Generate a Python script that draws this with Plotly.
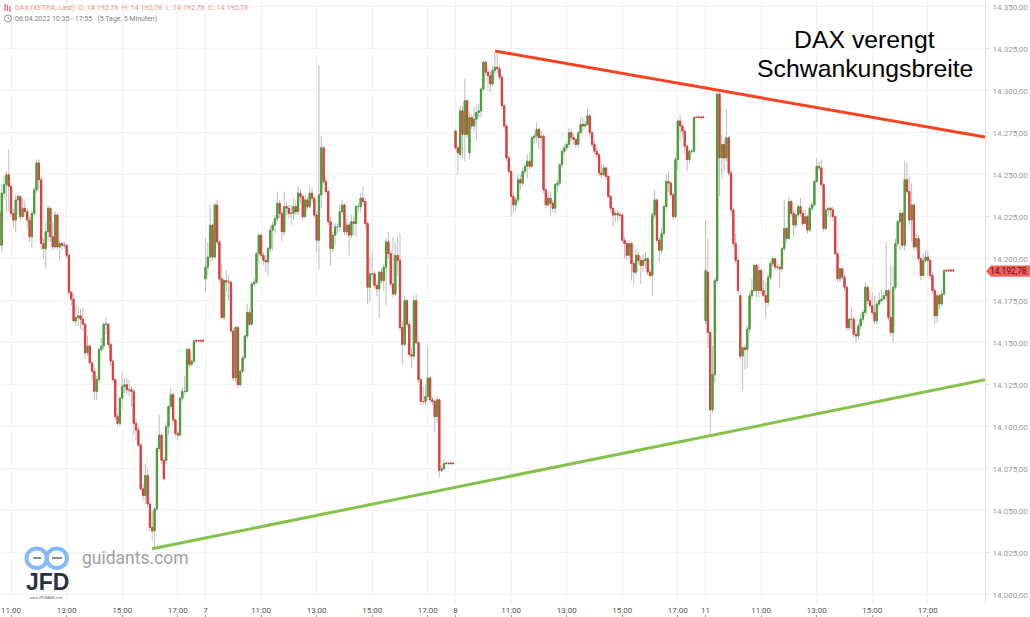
import plotly.graph_objects as go

# ---- candle data, one group of four lists per session (5-minute bars) ----
d0_start = 19
d0_open = [14228,14208,14239,14244,14250,14243,14227,14223,14235,14237,
           14225,14230,14228,14223,14213,14227,14241,14257,14247,14209,
           14206,14216,14230,14213,14207,14226,14207,14209,14208,14208,
           14202,14180,14176,14163,14165,14166,14164,14161,14144,14148,
           14138,14133,14121,14128,14146,14148,14161,14161,14149,14139,
           14128,14106,14102,14117,14124,14125,14122,14122,14121,14102,
           14098,14089,14063,14059,14071,14054,14040,14038,14051,14087,
           14095,14080,14080,14100,14112,14119,14104,14096,14095,14117,
           14121,14121,14146,14137,14139,14151.4,14151.4,14151.4,14151.4]
d0_high = [14240,14245,14249,14252,14265,14245,14230,14238,14239,14238,
           14236,14235,14230,14225,14229,14243,14259,14259,14249,14212,
           14222,14232,14231,14222,14228,14227,14211,14210,14210,14209,
           14203,14181,14179,14172,14171,14170,14171,14162,14154,14149,
           14139,14135,14130,14147,14153,14162,14165,14162,14150,14140,
           14129,14108,14118,14132,14129,14129,14128,14124,14123,14104,
           14100,14090,14066,14078,14075,14055,14050,14052,14088,14107,
           14096,14082,14102,14113,14123,14120,14105,14098,14118,14123,
           14130,14147,14147,14140,14152,14152,14152,14152,14152]
d0_low  = [14205,14204,14236,14228,14228,14225,14218,14216,14226,14222,
           14224,14225,14218,14210,14207,14225,14239,14240,14205,14200,
           14194,14210,14210,14205,14206,14205,14199,14205,14206,14200,
           14178,14172,14162,14160,14160,14158,14157,14141,14142,14136,
           14127,14116,14116,14126,14144,14146,14155,14147,14136,14126,
           14104,14100,14100,14110,14120,14119,14118,14112,14095,14092,
           14088,14062,14056,14054,14052,14038,14032,14028,14050,14085,
           14078,14068,14078,14095,14110,14102,14094,14092,14094,14115,
           14119,14120,14135,14136,14138,14150,14150,14150,14150]
d0_close = [14208,14239,14244,14250,14243,14227,14223,14235,14237,14225,
            14230,14228,14223,14213,14227,14241,14257,14247,14209,14206,
            14216,14230,14213,14207,14226,14207,14209,14208,14208,14202,
            14180,14176,14163,14165,14166,14164,14161,14144,14148,14138,
            14133,14121,14128,14146,14148,14161,14161,14149,14139,14128,
            14106,14102,14117,14124,14125,14122,14122,14121,14102,14098,
            14089,14063,14059,14071,14054,14040,14038,14051,14087,14095,
            14080,14069,14100,14112,14119,14104,14096,14095,14117,14121,
            14121,14146,14137,14139,14151,14151,14151,14151,14151]

d1_start = 108
d1_open = [14188,14195,14201,14220,14201,14232,14210,14188,14165,14187,
           14186,14186,14157,14129,14159,14125,14133,14141,14154,14168,
           14161,14185,14186,14203,14214,14202,14199,14198,14206,14217,
           14220,14224,14233,14227,14216,14231,14230,14227,14227,14231,
           14228,14239,14237,14225,14235,14231,14239,14236,14226,14211,
           14238,14266,14246,14240,14222,14206,14214,14219,14219,14228,
           14232,14216,14220,14214,14222,14221,14231,14231,14236,14234,
           14221,14183,14191,14191,14184,14182,14192,14187,14195,14210,
           14203,14185,14179,14202,14199,14159,14149,14175,14161,14143,
           14142,14175,14150,14128,14115,14115,14118,14129,14116,14115,
           14106,14116,14074,14075,14078.4,14078.4,14078.4,14078.4]
d1_high = [14212,14210,14232,14221,14233,14235,14211,14197,14188,14193,
           14190,14187,14159,14160,14160,14134,14142,14155,14173,14170,
           14186,14188,14204,14215,14215,14204,14202,14207,14220,14222,
           14226,14240,14235,14229,14240,14234,14232,14232,14236,14235,
           14243,14241,14238,14238,14237,14243,14242,14237,14228,14315,
           14273,14267,14249,14241,14225,14216,14221,14221,14232,14235,
           14233,14224,14222,14226,14225,14232,14233,14239,14243,14236,
           14222,14201,14204,14193,14186,14193,14194,14197,14212,14216,
           14205,14213,14210,14213,14215,14163,14178,14176,14163,14147,
           14178,14179,14151,14130,14124,14125,14148,14130,14118,14116,
           14118,14117,14077,14081,14079,14079,14079,14079]
d1_low  = [14180,14190,14198,14199,14200,14208,14186,14164,14163,14180,
           14175,14155,14127,14126,14123,14124,14132,14140,14152,14160,
           14160,14183,14185,14197,14200,14196,14192,14190,14204,14205,
           14215,14222,14224,14210,14214,14226,14224,14220,14223,14226,
           14226,14233,14223,14224,14229,14230,14234,14224,14204,14194,
           14230,14244,14238,14220,14196,14204,14208,14215,14216,14226,
           14214,14214,14202,14212,14214,14213,14228,14228,14232,14218,
           14173,14174,14186,14182,14178,14165,14185,14181,14172,14200,
           14183,14177,14178,14190,14157,14137,14148,14159,14141,14135,
           14140,14149,14126,14113,14113,14113,14116,14114,14113,14097,
           14102,14070,14073,14074,14078,14078,14078,14078]
d1_close = [14195,14201,14220,14201,14232,14210,14188,14165,14187,14186,
            14186,14157,14129,14159,14125,14133,14141,14154,14168,14161,
            14185,14186,14203,14214,14202,14199,14198,14206,14217,14220,
            14224,14233,14227,14216,14231,14230,14227,14227,14231,14228,
            14239,14237,14225,14235,14231,14239,14236,14226,14211,14238,
            14266,14246,14240,14222,14206,14214,14219,14219,14228,14232,
            14216,14220,14214,14222,14221,14231,14231,14236,14234,14221,
            14183,14191,14191,14184,14182,14192,14187,14195,14210,14203,
            14185,14179,14202,14199,14159,14149,14175,14161,14143,14142,
            14175,14150,14128,14115,14115,14118,14129,14116,14115,14106,
            14116,14074,14075,14078,14078,14078,14078,14078]

d2_start = 216
d2_open = [14276,14266,14262,14288,14274,14294,14263,14284,14279,14283,
           14287,14288,14301,14317,14311,14309,14304,14312,14314,14313,
           14308,14291,14279,14260,14252,14237,14232,14235,14247,14245,
           14252,14255,14258,14255,14272,14273,14277,14272,14273,14241,
           14232,14236,14233,14230,14244,14245,14256,14264,14266,14268,
           14275,14272,14271,14268,14275,14280,14279,14280,14285,14275,
           14268,14264,14262,14251,14250,14254,14249,14237,14230,14226,
           14227,14226,14226,14211,14209,14202,14209,14197,14192,14202,
           14199,14196,14199,14200,14192,14190,14226,14235,14211,14205,
           14215,14231,14246,14245,14238,14225,14259,14282,14279,14276,
           14267,14259,14264,14264,14284.4,14284.4,14284.4,14284.4]
d2_high = [14277,14267,14291,14291,14307,14295,14287,14286,14290,14291,
           14292,14302,14318,14318,14314,14312,14315,14323,14322,14315,
           14309,14292,14280,14261,14253,14239,14237,14250,14250,14254,
           14257,14262,14263,14273,14275,14281,14278,14276,14274,14242,
           14240,14240,14235,14245,14247,14257,14265,14268,14270,14278,
           14277,14274,14272,14276,14284,14284,14282,14290,14286,14276,
           14270,14266,14263,14256,14256,14255,14250,14238,14231,14229,
           14229,14228,14227,14213,14211,14211,14210,14199,14206,14204,
           14201,14203,14204,14201,14194,14228,14241,14236,14213,14218,
           14233,14250,14252,14246,14239,14261,14283,14286,14280,14277,
           14268,14265,14265,14285,14285,14285,14285,14285]
d2_low  = [14265,14250,14260,14260,14258,14272,14259,14277,14276,14270,
           14284,14284,14300,14309,14300,14299,14303,14310,14310,14306,
           14289,14277,14258,14250,14225,14227,14228,14233,14241,14243,
           14250,14248,14253,14254,14268,14269,14265,14265,14239,14230,
           14231,14226,14228,14227,14240,14243,14254,14262,14264,14266,
           14270,14268,14266,14266,14274,14276,14277,14279,14272,14266,
           14262,14260,14249,14248,14249,14247,14236,14228,14219,14222,
           14222,14223,14209,14200,14199,14200,14187,14184,14190,14197,
           14185,14192,14194,14190,14188,14178,14224,14209,14198,14203,
           14213,14229,14240,14236,14223,14224,14253,14270,14272,14262,
           14252,14257,14262,14263,14284,14284,14284,14284]
d2_close = [14266,14263,14288,14274,14294,14274,14284,14279,14283,14287,
            14288,14301,14317,14311,14309,14304,14312,14314,14313,14308,
            14291,14279,14260,14252,14237,14232,14235,14247,14245,14252,
            14255,14258,14255,14272,14273,14277,14272,14273,14241,14232,
            14236,14233,14230,14244,14245,14256,14264,14266,14268,14275,
            14272,14271,14268,14275,14280,14279,14280,14285,14275,14268,
            14264,14262,14251,14250,14254,14249,14237,14230,14226,14227,
            14226,14226,14211,14209,14202,14209,14197,14192,14202,14199,
            14196,14199,14200,14192,14190,14226,14235,14211,14205,14215,
            14231,14246,14245,14238,14225,14259,14282,14279,14276,14267,
            14259,14264,14264,14284,14284,14284,14284,14284]

d3_start = 324
d3_open = [14163,14192,14156,14110,14131,14187,14298,14260,14268,14260,
           14272,14251,14229,14209,14199,14178,14142,14147,14146,14158,
           14178,14181,14196,14181,14193,14181,14178,14174,14189,14197,
           14200,14195,14195,14194,14206,14218,14212,14234,14227,14220,
           14226,14231,14227,14221,14225,14217,14230,14232,14246,14255,
           14254,14244,14218,14229,14230,14229,14225,14203,14188,14194,
           14189,14183,14159,14164,14164,14155,14154,14160,14164,14168,
           14183,14175,14172,14168,14163,14173,14175,14176,14178,14181,
           14165,14156,14183,14209,14222,14227,14208,14247,14240,14223,
           14232,14207,14212,14200,14190,14199,14201,14199,14190,14181,
           14166,14178,14173,14179,14193.2,14193.2,14193.2,14193.2]
d3_high = [14223,14212,14158,14148,14189,14299,14299,14274,14271,14289,
           14273,14253,14230,14215,14201,14180,14148,14149,14160,14180,
           14188,14197,14197,14197,14194,14187,14186,14191,14199,14201,
           14200,14197,14197,14207,14235,14219,14237,14235,14229,14228,
           14232,14236,14229,14229,14226,14232,14234,14247,14260,14258,
           14259,14245,14230,14231,14231,14231,14226,14204,14195,14195,
           14191,14184,14165,14171,14166,14157,14162,14167,14170,14186,
           14184,14181,14180,14178,14175,14180,14182,14180,14210,14182,
           14196,14196,14212,14223,14229,14228,14258,14257,14249,14245,
           14233,14215,14214,14201,14203,14205,14205,14200,14192,14183,
           14180,14179,14182,14194,14194,14194,14194,14194]
d3_low  = [14161,14147,14095,14108,14126,14185,14237,14248,14252,14258,
           14249,14225,14207,14197,14179,14140,14122,14134,14135,14156,
           14176,14180,14177,14177,14179,14177,14164,14172,14187,14195,
           14193,14193,14183,14192,14204,14210,14212,14225,14213,14218,
           14224,14225,14219,14220,14215,14216,14228,14231,14245,14252,
           14243,14216,14217,14225,14224,14222,14202,14186,14186,14187,
           14181,14157,14157,14158,14153,14150,14152,14158,14162,14166,
           14173,14170,14166,14161,14161,14172,14174,14176,14175,14163,
           14154,14150,14181,14207,14205,14206,14205,14238,14220,14210,
           14205,14205,14198,14187,14190,14198,14190,14188,14179,14161,
           14162,14170,14172,14178,14192,14192,14192,14192]
d3_close = [14193,14156,14110,14131,14187,14298,14260,14268,14260,14272,
            14251,14229,14209,14199,14181,14142,14147,14146,14158,14178,
            14181,14196,14181,14193,14181,14178,14174,14189,14197,14200,
            14195,14195,14194,14206,14218,14212,14234,14227,14220,14226,
            14231,14227,14221,14225,14217,14230,14232,14246,14255,14254,
            14244,14218,14229,14230,14229,14225,14203,14188,14194,14189,
            14183,14159,14164,14164,14155,14154,14160,14164,14168,14183,
            14175,14172,14168,14163,14173,14175,14176,14178,14181,14165,
            14156,14183,14209,14222,14227,14208,14247,14240,14223,14232,
            14207,14212,14200,14190,14199,14201,14199,14190,14181,14166,
            14178,14173,14179,14192.78,14192.78,14192.78,14192.78,14192.78]

# ---- axis labels ----
x_tick_bars = [24, 48, 72, 96, 108, 132, 156, 180, 204, 216, 240, 264, 288, 312, 324, 348, 372, 396, 420]
x_tick_text = ["11:00", "13:00", "15:00", "17:00", "7", "11:00", "13:00", "15:00", "17:00", "8",
               "11:00", "13:00", "15:00", "17:00", "11", "11:00", "13:00", "15:00", "17:00"]
y_tick_vals = [14000 + 25 * k for k in range(15)]
y_tick_text = ["14.000,00", "14.025,00", "14.050,00", "14.075,00", "14.100,00", "14.125,00", "14.150,00",
               "14.175,00", "14.200,00", "14.225,00", "14.250,00", "14.275,00", "14.300,00", "14.325,00", "14.350,00"]

# ---- hand-drawn trend lines ----
resist_bars = [233.1, 444.7]
resist_vals = [14323.6, 14272.4]
support_bars = [84.9, 444.7]
support_vals = [14027.3, 14127.9]

# ---- assembling ----
sessions = [
    (d0_start, d0_open, d0_high, d0_low, d0_close),
    (d1_start, d1_open, d1_high, d1_low, d1_close),
    (d2_start, d2_open, d2_high, d2_low, d2_close),
    (d3_start, d3_open, d3_high, d3_low, d3_close),
]
bars, opens, highs, lows, closes = [], [], [], [], []
for start, o, h, l, c in sessions:
    assert len(o) == len(h) == len(l) == len(c), (start, len(o), len(h), len(l), len(c))
    bars += list(range(start, start + len(o)))
    opens += o
    highs += [max(a, b, d) for a, b, d in zip(h, o, c)]
    lows += [min(a, b, d) for a, b, d in zip(l, o, c)]
    closes += c
body_top = [max(a, b) for a, b in zip(opens, closes)]
body_bot = [min(a, b) for a, b in zip(opens, closes)]

W, H = 1030, 617
GREEN, RED = "#47a035", "#e03c3c"
WICK = "#bdbdbd"


def xp(px):
    return px / W


def yp(py):
    return 1 - py / H


fig = go.Figure()
fig.add_trace(go.Candlestick(
    x=bars, open=opens, high=highs, low=lows, close=closes, showlegend=False, hoverinfo="skip",
    increasing=dict(line=dict(color=WICK, width=1), fillcolor=WICK),
    decreasing=dict(line=dict(color=WICK, width=1), fillcolor=WICK)))
fig.add_trace(go.Candlestick(
    x=bars, open=opens, high=body_top, low=body_bot, close=closes, showlegend=False, hoverinfo="skip",
    increasing=dict(line=dict(color=GREEN, width=1), fillcolor=GREEN),
    decreasing=dict(line=dict(color=RED, width=1), fillcolor=RED)))
fig.add_trace(go.Scatter(x=resist_bars, y=resist_vals, mode="lines", showlegend=False, hoverinfo="skip",
                         line=dict(color="#f9421f", width=3)))
fig.add_trace(go.Scatter(x=support_bars, y=support_vals, mode="lines", showlegend=False, hoverinfo="skip",
                         line=dict(color="#83c34a", width=3)))


def note(px, py, text, size, color, anchor="left", family="Roboto"):
    fig.add_annotation(xref="paper", yref="paper", x=xp(px), y=yp(py), text=text, showarrow=False,
                       xanchor=anchor, yanchor="middle", font=dict(size=size, color=color, family=family),
                       borderpad=0, borderwidth=0)


note(15, 7.5, "DAX (XETRA, Last)&nbsp;&nbsp;O: 14.192,78&nbsp;&nbsp;H: 14.192,78&nbsp;&nbsp;L: 14.192,78&nbsp;&nbsp;C: 14.192,78",
     7.2, "#f48f8f")
note(15, 18.5, "06.04.2022 10:35 - 17:55&nbsp;&nbsp;&nbsp;(5 Tage, 5 Minuten)", 7.0, "#7f7f7f")
note(864.5, 39, "DAX verengt", 24.8, "#000000", "center", "Liberation Sans")
note(864.5, 68, "Schwankungsbreite", 24.8, "#000000", "center", "Liberation Sans")
note(1008, 271.3, "14.192,78", 8.3, "#4a1212", "center")
note(82, 558, "guidants.com", 17.5, "#a0a0a0", "left", "Roboto")
note(47, 582, "<b>JFD</b>", 23, "#27333f", "center", "Liberation Sans")
note(46.5, 597.5, "www.JFDBANK.com", 3.6, "#666666", "center", "Liberation Sans")

shapes = [
    # current price tag
    dict(type="path", xref="paper", yref="paper", layer="below", line=dict(width=0), fillcolor="#f2605e",
         path=f"M {xp(986)} {yp(271.2)} L {xp(991)} {yp(265.6)} L {xp(1030)} {yp(265.6)} L {xp(1030)} {yp(276.8)} L {xp(991)} {yp(276.8)} Z"),
    # clock icon
    dict(type="circle", xref="paper", yref="paper", x0=xp(4.5), x1=xp(11.5), y0=yp(15), y1=yp(22),
         line=dict(color="#777777", width=0.8)),
    dict(type="path", xref="paper", yref="paper", line=dict(color="#777777", width=0.7),
         path=f"M {xp(8)} {yp(16.5)} L {xp(8)} {yp(18.5)} L {xp(9.7)} {yp(19.5)}"),
    # chart-type icon
    dict(type="line", xref="paper", yref="paper", x0=xp(5), x1=xp(5), y0=yp(4), y1=yp(11), line=dict(color="#ef5a5a", width=1.2)),
    dict(type="line", xref="paper", yref="paper", x0=xp(7.5), x1=xp(7.5), y0=yp(5), y1=yp(11), line=dict(color="#ef5a5a", width=1.2)),
    dict(type="line", xref="paper", yref="paper", x0=xp(10), x1=xp(10), y0=yp(6), y1=yp(12), line=dict(color="#ef5a5a", width=1.2)),
    # logo rings
    dict(type="circle", xref="paper", yref="paper", x0=xp(26.5), x1=xp(47), y0=yp(548.5), y1=yp(568),
         line=dict(color="#84b9fb", width=4)),
    dict(type="circle", xref="paper", yref="paper", x0=xp(46.5), x1=xp(67), y0=yp(548.5), y1=yp(568),
         line=dict(color="#84b9fb", width=4)),
    dict(type="line", xref="paper", yref="paper", x0=xp(33), x1=xp(41), y0=yp(558), y1=yp(558), line=dict(color="#8b8f96", width=2)),
    dict(type="line", xref="paper", yref="paper", x0=xp(52), x1=xp(62), y0=yp(558), y1=yp(558), line=dict(color="#8b8f96", width=2)),
]

y_to = 14300 - (603 - 90.7) / 1.68
y_top = 14300 + 90.7 / 1.68
fig.update_layout(
    width=W, height=H, margin=dict(l=0, r=0, t=0, b=0, pad=0), autosize=False,
    paper_bgcolor="#ffffff", plot_bgcolor="#ffffff", showlegend=False, shapes=shapes,
    boxgap=0.25, boxmode="overlay",
    xaxis=dict(domain=[0, 985 / W], range=[19.224, 444.7], rangeslider=dict(visible=False),
               tickmode="array", tickvals=x_tick_bars, ticktext=x_tick_text, ticks="", showline=False,
               showgrid=True, gridcolor="#f3f3f3", gridwidth=1, zeroline=False, anchor="y",
               tickfont=dict(size=8, color="#555555", family="Roboto"), ticklabelstandoff=1),
    xaxis2=dict(domain=[0, 985 / W], range=[19.224, 444.7], overlaying="x", anchor="free", position=0,
                tickmode="array", tickvals=x_tick_bars, ticktext=[""] * len(x_tick_bars), ticks="inside",
                ticklen=2, tickcolor="#999999", tickwidth=1, showgrid=False, showline=False, zeroline=False,
                side="bottom", showticklabels=False),
    yaxis=dict(domain=[(H - 603) / H, 1], range=[y_to, y_top], side="right", anchor="x",
               tickmode="array", tickvals=y_tick_vals, ticktext=y_tick_text,
               ticks="outside", ticklen=3, tickcolor="#dddddd", tickwidth=1,
               showgrid=True, gridcolor="#f3f3f3", gridwidth=1, zeroline=False,
               showline=True, linecolor="#e2e2e2", linewidth=1,
               tickfont=dict(size=8, color="#9a9a9a", family="Roboto"), ticklabelstandoff=2),
)
# an empty trace keeps the tick-only axis on the page
fig.add_trace(go.Scatter(x=[x_tick_bars[0]], y=[14000], xaxis="x2", yaxis="y", mode="markers",
                         marker=dict(opacity=0), showlegend=False, hoverinfo="skip"))

fig.write_html("out.html", config=dict(displayModeBar=False),
               post_script="document.body.style.margin='0';document.body.style.overflow='hidden';")
